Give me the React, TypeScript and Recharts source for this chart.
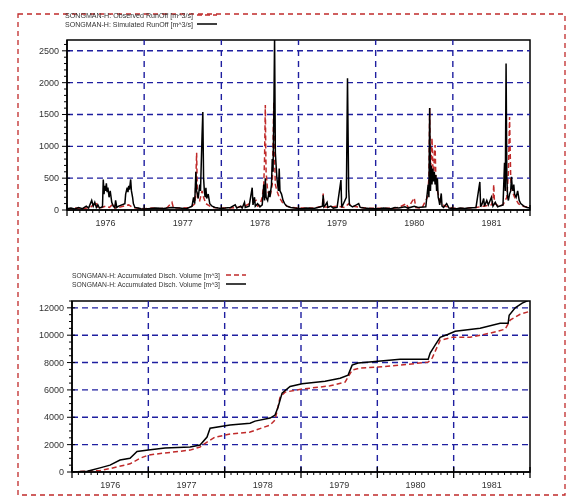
import React from 'react';
import { ComposedChart, Line, XAxis, YAxis, ReferenceLine, ReferenceArea } from 'recharts';

const yearBoundaries = [1976, 1977, 1978, 1979, 1980, 1981, 1982];
const yearLabels = ['1976', '1977', '1978', '1979', '1980', '1981'];
const runoffGrid = [500, 1000, 1500, 2000, 2500];
const volumeGrid = [2000, 4000, 6000, 8000, 10000, 12000];

const legendTop = ['SONGMAN-H: Observed RunOff [m^3/s]', 'SONGMAN-H: Simulated RunOff [m^3/s]'];
const legendBottom = ['SONGMAN-H: Accumulated Disch. Volume [m^3]', 'SONGMAN-H: Accumulated Disch. Volume [m^3]'];

// [time (fractional year), runoff m3/s]
const simulatedRunoff: [number, number][] = [
  [1976.0, 20], [1976.05, 30], [1976.1, 15], [1976.15, 40], [1976.2, 20], [1976.25, 60], [1976.28, 30],
  [1976.32, 150], [1976.34, 60], [1976.36, 120], [1976.38, 40], [1976.4, 80], [1976.42, 30], [1976.46, 50],
  [1976.47, 480], [1976.48, 250], [1976.49, 380], [1976.5, 300], [1976.51, 420], [1976.52, 280], [1976.53, 350],
  [1976.545, 200], [1976.56, 300], [1976.58, 120], [1976.6, 60], [1976.62, 40], [1976.63, 150], [1976.645, 40],
  [1976.67, 60], [1976.75, 100], [1976.76, 250], [1976.77, 300], [1976.78, 350], [1976.79, 280], [1976.8, 380],
  [1976.81, 320], [1976.825, 480], [1976.835, 300], [1976.85, 200], [1976.86, 100], [1976.88, 40], [1976.92, 30],
  [1976.96, 20], [1977.0, 15],
  [1977.05, 20], [1977.15, 30], [1977.25, 25], [1977.35, 40], [1977.45, 30], [1977.55, 20], [1977.62, 60],
  [1977.64, 200], [1977.655, 100], [1977.67, 600], [1977.68, 300], [1977.69, 250], [1977.7, 180], [1977.72, 400],
  [1977.73, 300], [1977.75, 1160], [1977.76, 1540], [1977.77, 500], [1977.78, 300], [1977.79, 200], [1977.8, 350],
  [1977.81, 180], [1977.83, 250], [1977.85, 100], [1977.88, 60], [1977.92, 40], [1977.96, 30], [1978.0, 25],
  [1978.05, 30], [1978.12, 40], [1978.18, 80], [1978.2, 30], [1978.25, 60], [1978.27, 30], [1978.3, 120],
  [1978.31, 40], [1978.36, 60], [1978.4, 350], [1978.41, 80], [1978.43, 200], [1978.44, 60], [1978.47, 100],
  [1978.5, 50], [1978.53, 80], [1978.55, 400], [1978.56, 150], [1978.57, 500], [1978.58, 200], [1978.6, 150],
  [1978.62, 300], [1978.63, 200], [1978.65, 400], [1978.66, 800], [1978.67, 600], [1978.68, 1500], [1978.69, 2700],
  [1978.7, 900], [1978.71, 700], [1978.72, 500], [1978.73, 400], [1978.74, 300], [1978.75, 650], [1978.76, 300],
  [1978.78, 250], [1978.8, 150], [1978.82, 100], [1978.85, 60], [1978.9, 40], [1978.95, 30], [1979.0, 25],
  [1979.05, 20], [1979.1, 30], [1979.2, 25], [1979.25, 40], [1979.31, 60], [1979.32, 230], [1979.33, 50],
  [1979.35, 80], [1979.37, 120], [1979.38, 40], [1979.42, 60], [1979.45, 30], [1979.5, 40], [1979.55, 470],
  [1979.56, 40], [1979.62, 200], [1979.635, 2070], [1979.65, 330], [1979.66, 80], [1979.7, 50], [1979.75, 80],
  [1979.78, 100], [1979.8, 40], [1979.85, 30], [1979.92, 25], [1980.0, 20],
  [1980.05, 20], [1980.1, 30], [1980.2, 20], [1980.25, 40], [1980.3, 30], [1980.38, 50], [1980.42, 30],
  [1980.5, 60], [1980.55, 40], [1980.65, 50], [1980.68, 400], [1980.69, 200], [1980.7, 1600], [1980.71, 300],
  [1980.72, 700], [1980.73, 400], [1980.74, 650], [1980.75, 450], [1980.76, 600], [1980.77, 400], [1980.78, 550],
  [1980.79, 300], [1980.8, 500], [1980.81, 200], [1980.82, 150], [1980.83, 80], [1980.85, 260], [1980.86, 60],
  [1980.88, 40], [1980.92, 100], [1980.95, 30], [1981.0, 25],
  [1981.05, 20], [1981.1, 30], [1981.15, 25], [1981.2, 30], [1981.3, 40], [1981.35, 440], [1981.36, 50],
  [1981.38, 100], [1981.4, 180], [1981.41, 60], [1981.44, 150], [1981.46, 80], [1981.5, 200], [1981.52, 60],
  [1981.55, 120], [1981.58, 50], [1981.65, 80], [1981.67, 740], [1981.68, 300], [1981.69, 2300], [1981.7, 500],
  [1981.71, 200], [1981.72, 150], [1981.735, 250], [1981.75, 300], [1981.76, 520], [1981.77, 350], [1981.78, 300],
  [1981.79, 400], [1981.8, 250], [1981.82, 200], [1981.84, 300], [1981.86, 150], [1981.88, 100], [1981.92, 60],
  [1981.96, 40], [1982.0, 30],
];

const observedRunoff: [number, number][] = [
  [1976.0, 10], [1976.1, 30], [1976.2, 20], [1976.3, 40], [1976.38, 120], [1976.4, 30], [1976.45, 40],
  [1976.5, 60], [1976.55, 40], [1976.6, 100], [1976.62, 30], [1976.7, 50], [1976.8, 80], [1976.85, 40],
  [1976.9, 30], [1977.0, 20],
  [1977.1, 30], [1977.2, 20], [1977.3, 40], [1977.36, 120], [1977.38, 30], [1977.5, 30], [1977.6, 40],
  [1977.66, 100], [1977.68, 900], [1977.69, 200], [1977.72, 150], [1977.75, 300], [1977.77, 200], [1977.8, 100],
  [1977.85, 60], [1977.9, 40], [1978.0, 30],
  [1978.1, 30], [1978.2, 40], [1978.3, 60], [1978.45, 150], [1978.47, 60], [1978.5, 80], [1978.53, 200],
  [1978.55, 400], [1978.56, 800], [1978.57, 1650], [1978.575, 1000], [1978.58, 600], [1978.6, 300], [1978.63, 200],
  [1978.66, 400], [1978.68, 1700], [1978.69, 800], [1978.7, 400], [1978.72, 300], [1978.75, 200], [1978.8, 100],
  [1978.85, 60], [1978.9, 40], [1979.0, 30],
  [1979.1, 30], [1979.2, 30], [1979.31, 60], [1979.32, 260], [1979.33, 50], [1979.4, 40], [1979.5, 60],
  [1979.6, 40], [1979.65, 100], [1979.7, 60], [1979.8, 40], [1979.9, 30], [1980.0, 25],
  [1980.1, 30], [1980.2, 25], [1980.3, 40], [1980.4, 100], [1980.42, 30], [1980.5, 190], [1980.52, 40],
  [1980.6, 30], [1980.67, 200], [1980.69, 500], [1980.7, 1600], [1980.71, 600], [1980.72, 800], [1980.73, 1130],
  [1980.74, 700], [1980.755, 600], [1980.76, 900], [1980.77, 1020], [1980.78, 500], [1980.8, 300], [1980.82, 200],
  [1980.85, 100], [1980.9, 60], [1981.0, 30],
  [1981.1, 25], [1981.2, 30], [1981.3, 40], [1981.4, 60], [1981.5, 80], [1981.52, 150], [1981.53, 400],
  [1981.54, 100], [1981.6, 60], [1981.65, 80], [1981.7, 200], [1981.72, 600], [1981.735, 1460], [1981.75, 500],
  [1981.77, 300], [1981.8, 200], [1981.85, 100], [1981.9, 60], [1982.0, 40],
];

// [time (fractional year), accumulated volume m3]
const simulatedVolume: [number, number][] = [
  [1976.0, 0], [1976.2, 50], [1976.367, 300], [1976.498, 500], [1976.629, 880], [1976.76, 1000], [1976.852, 1500],
  [1977.0, 1600], [1977.219, 1750], [1977.547, 1830], [1977.678, 1970], [1977.769, 2550], [1977.809, 3200],
  [1978.071, 3430], [1978.333, 3560], [1978.398, 3720], [1978.595, 3940], [1978.66, 4160], [1978.7, 4750],
  [1978.752, 5770], [1978.857, 6250], [1979.014, 6450], [1979.316, 6640], [1979.512, 6860], [1979.617, 7080],
  [1979.67, 7810], [1979.748, 7960], [1980.01, 8100], [1980.299, 8250], [1980.666, 8250], [1980.692, 8690],
  [1980.757, 9270], [1980.823, 9850], [1980.928, 10070], [1981.02, 10290], [1981.347, 10510], [1981.609, 10880],
  [1981.714, 10880], [1981.727, 11460], [1981.806, 12000], [1981.898, 12340], [1982.0, 12600],
];

const observedVolume: [number, number][] = [
  [1976.0, 0], [1976.367, 100], [1976.498, 250], [1976.76, 600], [1976.891, 1000], [1977.0, 1240],
  [1977.219, 1390], [1977.547, 1600], [1977.678, 1830], [1977.769, 2190], [1977.874, 2550], [1978.071, 2770],
  [1978.333, 2920], [1978.595, 3430], [1978.66, 3800], [1978.726, 5470], [1978.792, 5840], [1979.014, 6060],
  [1979.381, 6300], [1979.578, 6570], [1979.67, 7450], [1979.775, 7600], [1980.01, 7670], [1980.299, 7810],
  [1980.666, 8030], [1980.718, 8320], [1980.823, 9630], [1980.98, 9850], [1981.216, 9850], [1981.478, 10150],
  [1981.675, 10440], [1981.74, 11100], [1981.871, 11530], [1982.0, 11750],
];

const toRows = (arr: [number, number][]) => arr.map(([t, v]) => ({ t, v }));

const FONT = '"Liberation Sans", Arial, sans-serif';
const GRID = '#1f1fa0';
const RED = '#c02a2a';
const monthTicks = Array.from({ length: 73 }, (_, i) => yearBoundaries[0] + i / 12);

const XTick = (props: any) => {
  const { x, y, payload } = props;
  const v: number = payload.value;
  const k = Math.round((v - yearBoundaries[0]) * 12);
  if (k % 12 === 0) {
    return (
      <g>
        <line x1={x} x2={x} y1={y - 5} y2={y + 6} stroke="#000" strokeWidth={1.3} />
      </g>
    );
  }
  const label = k % 12 === 6 ? yearLabels[Math.floor(k / 12)] : null;
  return (
    <g>
      <line x1={x} x2={x} y1={y} y2={y + 3} stroke="#000" strokeWidth={1} />
      {label && (
        <text x={x} y={y + 16} textAnchor="middle" fontSize={9} fontFamily={FONT} fill="#333">
          {label}
        </text>
      )}
    </g>
  );
};

const makeYTick = (majors: number[]) => (props: any) => {
  const { x, y, payload } = props;
  const v: number = payload.value;
  const isMajor = v === 0 || majors.includes(v);
  return (
    <g>
      <line x1={isMajor ? x - 5 : x - 3} x2={isMajor ? x + 3 : x} y1={y} y2={y} stroke="#000" strokeWidth={1} />
      {isMajor && (
        <text x={x - 8} y={y + 3} textAnchor="end" fontSize={9} fontFamily={FONT} fill="#333">
          {v}
        </text>
      )}
    </g>
  );
};

type PanelProps = {
  sim: [number, number][];
  obs: [number, number][];
  yMax: number;
  minorStep: number;
  majors: number[];
  yWidth: number;
  height: number;
};

const Panel = ({ sim, obs, yMax, minorStep, majors, yWidth, height }: PanelProps) => {
  const yTicks: number[] = [];
  for (let v = 0; v <= yMax; v += minorStep) yTicks.push(v);
  const YTick = makeYTick(majors);
  return (
    <ComposedChart width={522} height={height} margin={{ top: 10, right: 10, left: 0, bottom: 0 }}>
      <XAxis
        type="number"
        dataKey="t"
        domain={[yearBoundaries[0], yearBoundaries[yearBoundaries.length - 1]]}
        ticks={monthTicks}
        interval={0}
        tickSize={0}
        tickMargin={0}
        tick={XTick}
        height={20}
        allowDataOverflow
        axisLine={{ stroke: '#000', strokeWidth: 1.5 }}
      />
      <YAxis
        type="number"
        domain={[0, yMax]}
        ticks={yTicks}
        interval={0}
        tickSize={0}
        tickMargin={0}
        tick={YTick}
        width={yWidth}
        allowDataOverflow
        axisLine={{ stroke: '#000', strokeWidth: 1.5 }}
      />
      {majors.map((v) => (
        <ReferenceLine key={'h' + v} y={v} stroke={GRID} strokeWidth={1.4} strokeDasharray="6 4" />
      ))}
      {yearBoundaries.slice(1, -1).map((v) => (
        <ReferenceLine key={'v' + v} x={v} stroke={GRID} strokeWidth={1.4} strokeDasharray="6 5" />
      ))}
      <ReferenceArea
        x1={yearBoundaries[0]}
        x2={yearBoundaries[yearBoundaries.length - 1]}
        y1={0}
        y2={yMax}
        fill="none"
        stroke="#000"
        strokeWidth={1.5}
      />
      <Line
        data={toRows(obs)}
        dataKey="v"
        type="linear"
        stroke={RED}
        strokeWidth={1.5}
        strokeDasharray="5 3"
        dot={false}
        isAnimationActive={false}
      />
      <Line
        data={toRows(sim)}
        dataKey="v"
        type="linear"
        stroke="#000"
        strokeWidth={1.5}
        dot={false}
        isAnimationActive={false}
      />
    </ComposedChart>
  );
};

const Legend = ({ labels, x, y, len, sx }: { labels: string[]; x: number; y: number; len: number; sx: number }) => (
  <g>
    {labels.map((l, i) => (
      <g key={i}>
        <text
          x={x}
          y={y + i * 9 + 2.5}
          fontSize={7}
          fontFamily={FONT}
          fill="#333"
          textLength={len}
          lengthAdjust="spacingAndGlyphs"
        >
          {l}
        </text>
        <line
          x1={sx}
          x2={sx + 20}
          y1={y + i * 9}
          y2={y + i * 9}
          stroke={i === 0 ? RED : '#000'}
          strokeWidth={1.5}
          strokeDasharray={i === 0 ? '5 3' : undefined}
        />
      </g>
    ))}
  </g>
);

export default function App() {
  return (
    <div style={{ position: 'relative', width: 556, height: 483 }}>
      <svg
        width={572}
        height={499}
        style={{ position: 'fixed', left: 0, top: 0, pointerEvents: 'none' }}
      >
        <rect x={18} y={14} width={547} height={481} fill="none" stroke={RED} strokeWidth={1.3} strokeDasharray="5 4" />
        <Legend labels={legendTop} x={65} y={15} len={128} sx={197} />
        <Legend labels={legendBottom} x={72} y={275} len={148} sx={226} />
      </svg>
      <div style={{ position: 'absolute', left: 10, top: 22 }}>
        <Panel
          sim={simulatedRunoff}
          obs={observedRunoff}
          yMax={2670}
          minorStep={100}
          majors={runoffGrid}
          yWidth={49}
          height={200}
        />
      </div>
      <div style={{ position: 'absolute', left: 10, top: 283 }}>
        <Panel
          sim={simulatedVolume}
          obs={observedVolume}
          yMax={12500}
          minorStep={500}
          majors={volumeGrid}
          yWidth={54}
          height={201}
        />
      </div>
    </div>
  );
}
